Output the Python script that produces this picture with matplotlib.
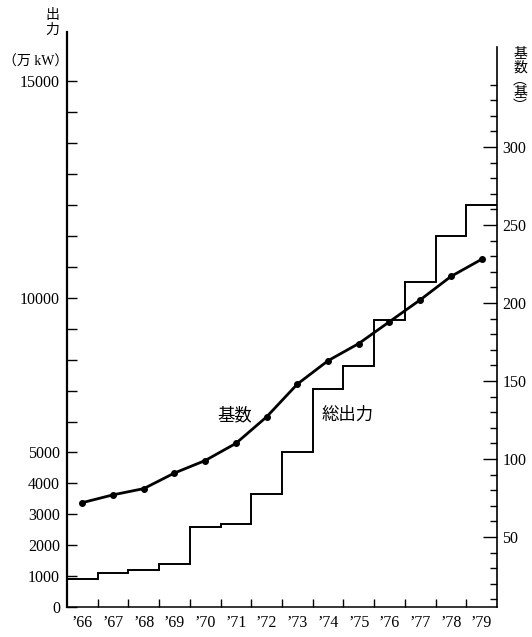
import matplotlib
matplotlib.use("Agg")
import matplotlib.pyplot as plt
import numpy as np

plt.rcParams['font.family'] = ['Liberation Serif', 'Noto Sans CJK JP']

# years (fiscal), one interval per year
years = ["’66", "’67", "’68", "’69", "’70", "’71", "’72",
         "’73", "’74", "’75", "’76", "’77", "’78", "’79"]
# total output (万kW), step line on left axis
total_output = [900, 1100, 1200, 1400, 2600, 2700, 3650,
                5000, 7050, 7800, 9300, 10500, 12000, 13000]
# number of units (基), right axis
unit_count = [72, 77, 81, 91, 99, 110, 127,
              148, 163, 174, 188, 202, 217, 228]

# left axis tick labels as printed (top label sits one tick pitch high)
left_tick_pos = [0, 1000, 2000, 3000, 4000, 5000, 10000, 17000]
left_tick_lab = ["0", "1000", "2000", "3000", "4000", "5000", "10000", "15000"]


def main():
    W, H = 532, 637
    fig = plt.figure(figsize=(W / 100, H / 100), dpi=100)
    ax = fig.add_axes([67 / W, 30 / H, (497 - 67) / W, (607 - 32) / H])
    ax2 = ax.twinx()

    n = len(years)
    edges = np.arange(n + 1)
    centers = np.arange(n) + 0.5

    # step line for total output
    ax.stairs(total_output, edges, baseline=None, color="black", lw=1.4)
    # line for unit count
    ax2.plot(centers, unit_count, color="black", lw=2.0, marker="o", ms=4)

    ax.set_xlim(0, n)
    ax.set_ylim(0, 18600)
    ax2.set_ylim(5.1, 373.7)

    # x axis: ticks at year boundaries, labels centred in each year
    ax.set_xticks(edges[1:-1])
    ax.set_xticklabels([])
    ax.set_xticks(centers, minor=True)
    ax.set_xticklabels(years, minor=True, fontsize=11.5)
    ax.tick_params(axis="x", which="major", direction="in", length=6, width=1)
    ax.tick_params(axis="x", which="minor", length=0, pad=6)

    # left axis: a tick every 1000, labels only where printed
    ticks = list(range(0, 18000, 1000))
    labels = []
    for v in ticks:
        if v in left_tick_pos:
            labels.append(left_tick_lab[left_tick_pos.index(v)])
        else:
            labels.append("")
    ax.set_yticks(ticks)
    ax.set_yticklabels(labels, fontsize=11.5)
    ax.tick_params(axis="y", which="major", direction="in", length=7, width=1, pad=5)

    # right axis
    ax2.set_yticks([50, 100, 150, 200, 250, 300])
    ax2.set_yticklabels(["50", "100", "150", "200", "250", "300"], fontsize=11.5)
    ax2.set_yticks([v for v in range(10, 350, 10) if v % 50 != 0], minor=True)
    ax2.tick_params(axis="y", which="major", direction="in", length=10, width=1, pad=4)
    ax2.tick_params(axis="y", which="minor", direction="in", length=5, width=1)

    for a in (ax, ax2):
        a.spines["top"].set_visible(False)
    ax2.spines["left"].set_visible(False)
    ax2.spines["bottom"].set_visible(False)
    ax.spines["right"].set_visible(False)
    ax.spines["left"].set_linewidth(1.6)
    ax.spines["bottom"].set_linewidth(1.1)
    ax2.spines["right"].set_linewidth(1.2)
    ax2.spines["right"].set_bounds(5.1, 364)

    # in-plot labels
    ax.text(5.47, 6180, "基数", fontsize=12.5, ha="center", va="center")
    ax.text(9.12, 6180, "総出力", fontsize=12.5, ha="center", va="center")

    # axis titles
    fig.text(52 / W, 1 - 16 / H, "出", fontsize=10, ha="center", va="center")
    fig.text(52 / W, 1 - 30 / H, "力", fontsize=10, ha="center", va="center")
    fig.text(36 / W, 1 - 62 / H, "（万 kW）", fontsize=10, ha="center", va="center")
    fig.text(520 / W, 1 - 48 / H, "基\n数\n︵\n基\n︶", fontsize=10,
             ha="center", va="top", linespacing=1.0)

    fig.savefig("out.png", dpi=100)


if __name__ == "__main__":
    main()
